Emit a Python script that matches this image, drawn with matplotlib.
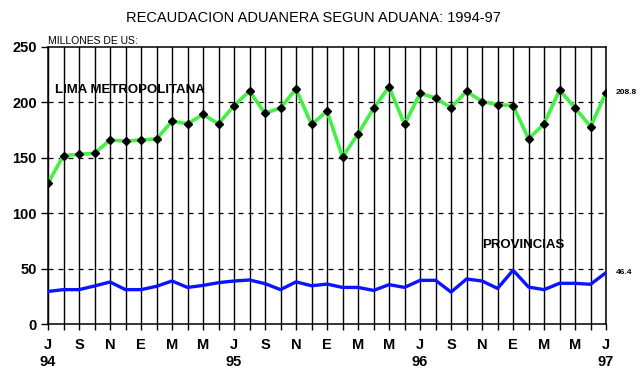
import matplotlib
matplotlib.use("Agg")
import matplotlib.pyplot as plt
import numpy as np

plt.rcParams['font.family'] = ['Liberation Sans', 'DejaVu Sans']

# monthly values, Jul 1994 - Jul 1997 (millones de US$)
lima = [127, 152, 153, 154, 166, 165, 166, 167, 183, 180.6, 189, 180.6,
        197, 210, 190, 195, 212, 180, 192, 150.6, 171.5, 194.5, 214, 180,
        208, 204, 195, 210, 200.6, 198, 197, 167, 180.6, 211, 195, 178, 208.8]
provincias = [29.4, 31, 31, 34.3, 37.9, 31, 31, 34, 38.8, 33, 34.8, 37.3,
              38.8, 39.7, 36.4, 31, 38, 34.5, 36, 33, 33, 30.3, 35.5, 33,
              39.4, 39.4, 28.8, 40.6, 38.8, 32.1, 48.5, 33.3, 31, 36.7, 36.7, 35.8, 46.4]
month_labels = ['J', 'S', 'N', 'E', 'M', 'M'] * 3 + ['J']
year_labels = {0: '94', 12: '95', 24: '96', 36: '97'}
end_labels = ['208.8', '46.4']

x = np.arange(len(lima))

fig = plt.figure(figsize=(6.4, 3.75), dpi=100)
ax = fig.add_axes([0.075, 0.136, 0.872, 0.739])

# grid
for xi in x:
    ax.axvline(xi, color='black', lw=1.0, zorder=1)
for yv in [50, 100, 150, 200]:
    ax.axhline(yv, color='black', lw=0.9, ls=(0, (4, 4)), zorder=1)

ax.plot(x, lima, color='#44f044', lw=2.6, zorder=3)
ax.plot(x, lima, ls='none', marker='D', ms=4.5, color='black', zorder=4)
ax.plot(x, provincias, color='#0a14ff', lw=2.4, zorder=3)

ax.set_xlim(0, 36)
ax.set_ylim(0, 250)
ax.set_yticks([0, 50, 100, 150, 200, 250])
ax.set_yticklabels(['0', '50', '100', '150', '200', '250'], fontweight='bold', fontsize=10.5)

ticks = x[::2]
labels = []
for i, t in enumerate(ticks):
    lab = month_labels[i]
    if t in year_labels:
        lab = lab + '\n' + year_labels[t]
    labels.append(lab)
ax.set_xticks(ticks)
ax.set_xticklabels(labels, fontweight='bold', fontsize=10.5, va='top', linespacing=1.25)
ax.set_xticks(x, minor=True)
ax.tick_params(axis='x', which='both', length=4, width=1.0, direction='out', pad=6)
ax.tick_params(axis='y', length=5, width=1.0, pad=3)

for s in ax.spines.values():
    s.set_linewidth(1.1)

fig.text(0.49, 0.952, 'RECAUDACION ADUANERA SEGUN ADUANA: 1994-97', ha='center',
         va='center', fontsize=10.5)
ax.text(0, 251, 'MILLONES DE US:', fontsize=7.5, ha='left', va='bottom')
ax.text(0.45, 211, 'LIMA METROPOLITANA', fontsize=9.5, fontweight='bold', ha='left', va='center')
ax.text(28, 71, 'PROVINCIAS', fontsize=9.5, fontweight='bold', ha='left', va='center')
ax.text(36.6, lima[-1], end_labels[0], fontsize=6, fontweight='bold', ha='left', va='center',
        clip_on=False)
ax.text(36.6, provincias[-1], end_labels[1], fontsize=6, fontweight='bold', ha='left', va='center',
        clip_on=False)

fig.savefig('out.png', dpi=100)
